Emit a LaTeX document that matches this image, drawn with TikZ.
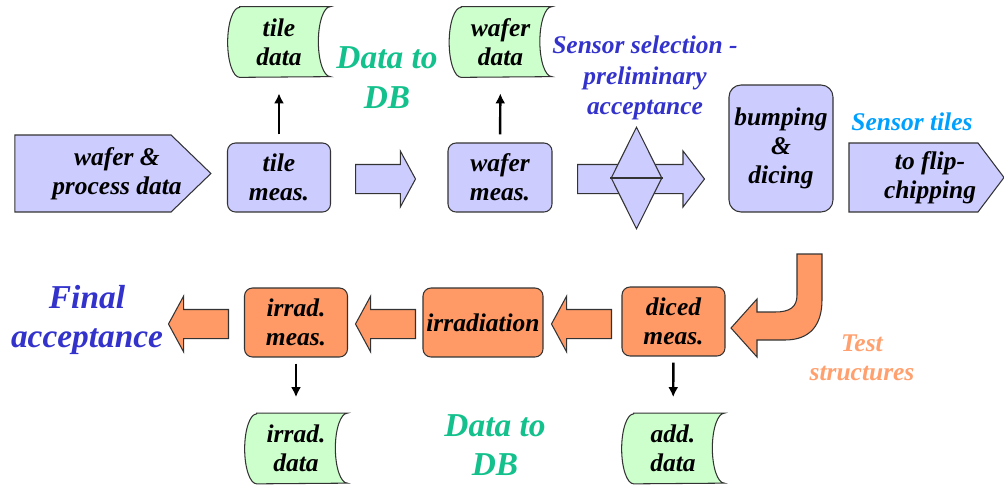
\documentclass[tikz,border=0pt]{standalone}
\usepackage{fontspec}
\setmainfont{Liberation Serif}
\usetikzlibrary{shapes.geometric,shapes.arrows,shapes.symbols,backgrounds,calc,arrows.meta}
\definecolor{boxblue}{RGB}{204,204,255}
\definecolor{boxorange}{RGB}{255,153,102}
\definecolor{boxgreen}{RGB}{204,255,204}
\definecolor{labelblue}{RGB}{51,51,204}
\definecolor{labelteal}{RGB}{20,192,140}
\definecolor{labelsky}{RGB}{0,160,255}
\definecolor{labelsalmon}{RGB}{255,160,110}
% stored data outline round a named node
\newcommand{\dbshape}[1]{%
  \draw [dataframe] ($(#1.north west)+(12,0)$) -- (#1.north east)
      arc [start angle=90, end angle=270, x radius=0.24cm, y radius=0.7cm]
      -- ($(#1.south west)+(12,0)$)
      arc [start angle=270, end angle=90, x radius=0.24cm, y radius=0.7cm] -- cycle;}

\begin{document}
\begin{tikzpicture}[>={Latex[length=0.2cm,width=0.2cm]}, x=0.02cm, y=0.02cm]

    \tikzset{% styles for boxes, arrows and labels
        every node/.style={font=\fontsize{14.5}{16.5}\selectfont\bfseries\itshape, align=center},
        meas/.style={rectangle, rounded corners=0.16cm, draw=black!80, line width=0.6pt, fill=#1,
                            minimum width=2.06cm, minimum height=1.38cm, inner sep=0pt},
        dataframe/.style={draw=black!80, line width=0.6pt, fill=boxgreen},
        datanode/.style={minimum width=2.04cm, minimum height=1.4cm, inner sep=0pt},
        blockarrow/.style={single arrow, draw=black!80, line width=0.6pt, fill=#1, anchor=tail,
                            minimum height=1.2cm, inner xsep=0pt, inner ysep=0.28cm,
                            single arrow head extend=0.27cm, single arrow tip angle=123},
        pointbox/.style={signal, signal to=east, draw=black!80, line width=0.6pt, fill=boxblue, inner sep=0pt},
        thinarrow/.style={->, line width=1.4pt},
        biglabel/.style={font=\fontsize{19}{22.5}\selectfont\bfseries\itshape}}

    \useasboundingbox (0,0) rectangle (1004,485);

    % top row
    \node [pointbox, signal pointer angle=88, minimum width=3.92cm, minimum height=1.54cm]
        (wpd) at (93,311.5) {};
    \node (wpdtext) at (117,311.5) {wafer \&\\process data};
    \node [meas=boxblue] (tilemeas) at (279,307.5) {tile\\meas.};
    \node [datanode] (tiledata) at (279,443) {tile\\data};
    \node [blockarrow=boxblue] (next1) at (355,306) {};
    \node [meas=boxblue, minimum width=2.08cm] (wafermeas) at (500,307.5) {wafer\\meas.};
    \node [datanode] (waferdata) at (500.5,443) {wafer\\data};
    \node [blockarrow=boxblue, minimum height=2.54cm, single arrow tip angle=105] (next2) at (577,306) {};
    \node [diamond, draw=black!80, line width=0.6pt, fill=boxblue, minimum width=1.02cm,
           minimum height=2.04cm, inner sep=0pt] (select) at (636.5,307) {};
    \draw [black!80, line width=0.6pt] (select.west) -- (select.east);
    \node [meas=boxblue, rounded corners=0.24cm, minimum width=2.08cm, minimum height=2.54cm]
        (bumping) at (781,336.5) {bumping\\\&\\dicing};
    \node [pointbox, signal pointer angle=106, minimum width=3.1cm, minimum height=1.38cm]
        (flip) at (913.5,307.5) {};
    \node (fliptext) at (930,307.5) {to flip-\\chipping};

    \draw [thinarrow, shorten <=0.16cm, shorten >=0.32cm] (tilemeas) -- (tiledata);
    \draw [thinarrow, shorten <=0.16cm, shorten >=0.32cm] (wafermeas) -- (waferdata);

    % labels
    \node [biglabel, text=labelteal] (db1) at (387,407.5) {Data to\\DB};
    \node [text=labelblue, font=\fontsize{14.5}{17.3}\selectfont\bfseries\itshape]
        (selectlabel) at (645,407) {Sensor selection -\\preliminary\\acceptance};
    \node [text=labelsky] (tileslabel) at (912,363) {Sensor tiles};

    % bottom row
    \node [meas=boxorange] (diced) at (673.5,163.5) {diced\\meas.};
    \node [blockarrow=boxorange, shape border rotate=180] (back1) at (612,161) {};
    \node [meas=boxorange, minimum width=2.4cm] (irradiation) at (483,162.5) {irradiation};
    \node [blockarrow=boxorange, shape border rotate=180] (back2) at (416,161) {};
    \node [meas=boxorange] (irradmeas) at (296,162.5) {irrad.\\meas.};
    \node [blockarrow=boxorange, shape border rotate=180] (back3) at (229,161) {};
    \node [biglabel, text=labelblue] (final) at (87,165) {Final\\acceptance};
    \node [datanode] (irraddata) at (296,36.5) {irrad.\\data};
    \node [datanode] (adddata) at (673,36.5) {add.\\data};

    \draw [thinarrow, shorten <=0.12cm, shorten >=0.32cm] (irradmeas) -- (irraddata);
    \draw [thinarrow, shorten <=0.12cm, shorten >=0.32cm] (diced) -- (adddata);

    % turn from bumping down to the test structures
    \draw [draw=black!80, line width=0.6pt, fill=boxorange]
        (797,231) -- (797,190) .. controls (797,178) and (790,173) .. (775,173) -- (757,173)
        -- (757,186) -- (731,157) -- (757,128) -- (757,145) -- (785,145)
        .. controls (810,145) and (822,160) .. (822,185) -- (822,231) -- cycle;

    \node [biglabel, text=labelteal] (db2) at (495,40) {Data to\\DB};
    \node [text=labelsalmon] (testlabel) at (862,127) {Test\\structures};

    \begin{pgfonlayer}{background}
        \dbshape{tiledata}
        \dbshape{waferdata}
        \dbshape{irraddata}
        \dbshape{adddata}
    \end{pgfonlayer}

\end{tikzpicture}
\end{document}
